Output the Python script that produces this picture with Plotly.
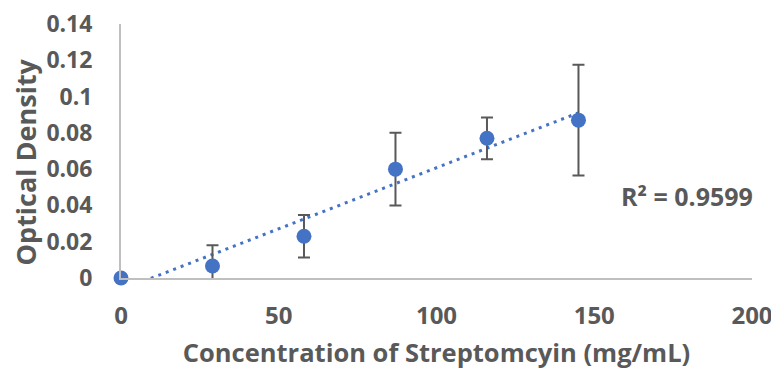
import numpy as np
import plotly.graph_objects as go

concentration = [0, 29, 58, 87, 116, 145]
optical_density = [0.0, 0.0066, 0.023, 0.060, 0.077, 0.087]
od_error = [0.0, 0.0115, 0.0117, 0.020, 0.0115, 0.0305]
x_ticks = [0, 50, 100, 150, 200]
y_ticks = [0, 0.02, 0.04, 0.06, 0.08, 0.1, 0.12, 0.14]
y_tick_labels = ["0", "0.02", "0.04", "0.06", "0.08", "0.1", "0.12", "0.14"]
r2_label = "R² = 0.9599"
x_title = "Concentration of Streptomcyin (mg/mL)"
y_title = "Optical Density"

slope, intercept = np.polyfit(concentration, optical_density, 1)
trend_x = [concentration[0], concentration[-1]]
trend_y = [intercept + slope * v for v in trend_x]

FONT = "Open Sans"
GRAY = "#595959"
BLUE = "#4472C4"

fig = go.Figure()
fig.add_trace(go.Scatter(
    x=trend_x, y=trend_y, mode="lines",
    line=dict(color=BLUE, width=3, dash="3px,5px"),
    hoverinfo="skip", showlegend=False,
))
fig.add_trace(go.Scatter(
    x=concentration, y=optical_density, mode="markers",
    marker=dict(color=BLUE, size=15),
    error_y=dict(type="data", array=od_error, color=GRAY, thickness=2, width=6),
    showlegend=False, cliponaxis=False,
))
fig.add_annotation(
    x=179.5, y=0.045, text=r2_label, showarrow=False,
    font=dict(family=FONT, size=25, color=GRAY, weight="bold"),
)
fig.add_annotation(
    xref="paper", yref="paper", x=0, y=0.455, xshift=-96,
    xanchor="center", yanchor="middle", textangle=-90,
    text=y_title, showarrow=False, borderpad=0,
    font=dict(family=FONT, size=27, color=GRAY, weight="bold"),
)
fig.update_layout(
    width=779, height=373,
    margin=dict(l=113, r=35, t=16, b=103, autoexpand=False),
    paper_bgcolor="white", plot_bgcolor="white",
    font=dict(family=FONT, color=GRAY),
    xaxis=dict(
        range=[0, 200], tickvals=x_ticks, showgrid=False, zeroline=False,
        showline=True, linecolor="#BFBFBF", linewidth=2, ticks="",
        automargin=False, ticklabeloverflow="allow",
        tickfont=dict(family=FONT, size=24, color=GRAY, weight="bold"),
        ticklabelstandoff=15,
        title=dict(text=x_title, standoff=14,
                   font=dict(family=FONT, size=25.5, color=GRAY, weight="bold")),
    ),
    yaxis=dict(
        range=[0, 0.14], tickvals=y_ticks, ticktext=y_tick_labels,
        showgrid=False, zeroline=False,
        showline=True, linecolor="#BFBFBF", linewidth=2, ticks="",
        automargin=False, ticklabeloverflow="allow",
        tickfont=dict(family=FONT, size=23, color=GRAY, weight="bold"),
        ticklabelstandoff=22,
    ),
)
fig.write_html("out.html")
